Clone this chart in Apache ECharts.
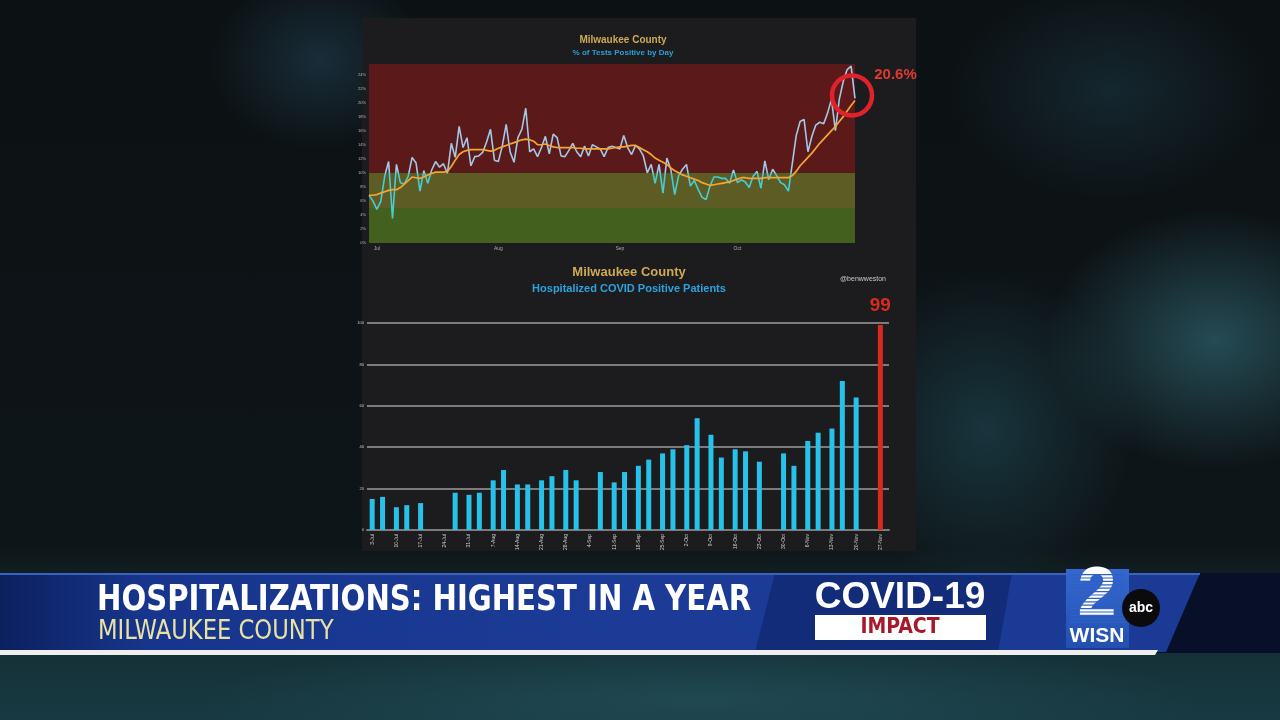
<!DOCTYPE html>
<html>
<head>
<meta charset="utf-8">
<script src="https://cdn.jsdelivr.net/npm/echarts@6/dist/echarts.min.js"></script>
<style>
  html, body { margin: 0; padding: 0; }
  body {
    width: 1280px; height: 720px; overflow: hidden;
    background:
      radial-gradient(ellipse 170px 130px at 1215px 340px, rgba(52,112,126,0.6), rgba(0,0,0,0)),
      radial-gradient(ellipse 150px 160px at 985px 430px, rgba(34,84,98,0.5), rgba(0,0,0,0)),
      radial-gradient(ellipse 160px 110px at 1110px 90px, rgba(30,64,80,0.45), rgba(0,0,0,0)),
      radial-gradient(ellipse 110px 90px at 320px 60px, rgba(38,78,104,0.45), rgba(0,0,0,0)),
      radial-gradient(ellipse 500px 60px at 700px 700px, rgba(36,80,90,0.7), rgba(0,0,0,0)),
      linear-gradient(to bottom, #0c1113 0%, #0e1518 76%, #132a30 84%, #183a42 100%);
  }
  #main { width: 1280px; height: 720px; }
</style>
</head>
<body>
<div id="main"></div>
<script>
// % of tests positive by day, from 29 Jun
var testStart = '2020-06-29';
var monthTicks = ['2020-07-01', '2020-08-01', '2020-09-01', '2020-10-01'];
var monthLabels = ['Jul', 'Aug', 'Sep', 'Oct'];
var pctPositive = [
  6.8, 6.0, 4.8, 5.9, 9.5, 11.6, 3.5, 11.2, 8.6, 8.4,
  9.5, 12.2, 11.4, 7.4, 10.3, 8.5, 10.4, 11.6, 10.8, 11.3,
  9.9, 14.2, 12.2, 16.6, 13.6, 15.0, 11.0, 12.3, 12.4, 12.9,
  14.4, 16.2, 11.8, 11.6, 13.8, 16.9, 13.0, 11.5, 15.0, 16.2,
  19.2, 13.0, 13.4, 12.3, 13.6, 15.2, 12.7, 15.5, 15.0, 12.4,
  12.3, 13.2, 14.2, 13.0, 12.3, 13.8, 12.4, 14.0, 13.7, 13.4,
  12.3, 13.6, 13.8, 13.6, 13.4, 15.3, 13.6, 12.6, 13.9, 13.4,
  12.4, 10.0, 11.2, 8.5, 11.2, 7.1, 12.1, 10.5, 6.9, 9.6,
  10.5, 11.2, 8.1, 8.9, 7.6, 6.5, 6.2, 8.1, 9.4, 9.4,
  9.2, 9.2, 8.5, 10.4, 8.6, 9.0, 8.7, 7.9, 9.5, 10.2,
  7.8, 11.7, 9.0, 10.5, 9.6, 8.6, 8.3, 7.4, 11.3, 15.3,
  17.3, 17.6, 13.0, 15.2, 16.8, 17.2, 17.0, 18.5, 20.5, 16.0,
  20.5, 23.0, 24.7, 25.2, 20.6
];
var pctAvg7 = [
  6.8, 6.8, 6.9, 7.1, 7.3, 7.5, 7.6, 7.6, 7.9, 8.4,
  8.9, 9.4, 9.3, 9.2, 9.4, 9.7, 9.9, 10.1, 10.1, 10.1,
  10.2, 10.9, 11.8, 12.6, 13.0, 13.2, 13.3, 13.3, 13.3, 13.3,
  13.2, 13.1, 13.2, 13.5, 13.7, 13.9, 14.1, 14.3, 14.5, 14.7,
  14.8, 14.7, 14.5, 14.0, 14.0, 14.1, 13.9, 13.7, 13.6, 13.6,
  13.6, 13.6, 13.6, 13.5, 13.5, 13.4, 13.4, 13.4, 13.4, 13.4,
  13.4, 13.4, 13.5, 13.6, 13.7, 13.7, 13.8, 13.9, 13.9, 13.6,
  13.3, 13.0, 12.6, 12.1, 11.8, 11.5, 11.2, 10.7, 10.3, 10.0,
  9.7, 9.5, 9.3, 9.1, 8.9, 8.6, 8.4, 8.2, 8.3, 8.4,
  8.5, 8.6, 8.7, 8.9, 9.1, 9.3, 9.3, 9.2, 9.2, 9.2,
  9.2, 9.3, 9.3, 9.3, 9.3, 9.3, 9.3, 9.3, 9.6, 10.2,
  11.0, 11.6, 12.2, 12.8, 13.5, 14.2, 14.8, 15.4, 16.0, 16.6,
  17.3, 18.0, 18.8, 19.6, 20.3
];
var bandLimits = [0, 5, 10, 25.5];

// hospitalized COVID positive patients
var hospAxisStart = '2020-07-02';
var hospAxisEnd = '2020-11-29';
var hospDates = [
  '2020-07-03', '2020-07-06', '2020-07-10', '2020-07-13', '2020-07-17',
  '2020-07-27', '2020-07-31', '2020-08-03', '2020-08-07', '2020-08-10',
  '2020-08-14', '2020-08-17', '2020-08-21', '2020-08-24', '2020-08-28',
  '2020-08-31', '2020-09-07', '2020-09-11', '2020-09-14', '2020-09-18',
  '2020-09-21', '2020-09-25', '2020-09-28', '2020-10-02', '2020-10-05',
  '2020-10-09', '2020-10-12', '2020-10-16', '2020-10-19', '2020-10-23',
  '2020-10-30', '2020-11-02', '2020-11-06', '2020-11-09', '2020-11-13',
  '2020-11-16', '2020-11-20', '2020-11-27'
];
var hospPatients = [
  15, 16, 11, 12, 13, 18, 17, 18, 24, 29,
  22, 22, 24, 26, 29, 24, 28, 23, 28, 31,
  34, 37, 39, 41, 54, 46, 35, 39, 38, 33,
  37, 31, 43, 47, 49, 72, 64, 99
];
var hospTickDates = [
  '2020-07-03', '2020-07-10', '2020-07-17', '2020-07-24', '2020-07-31',
  '2020-08-07', '2020-08-14', '2020-08-21', '2020-08-28', '2020-09-04',
  '2020-09-11', '2020-09-18', '2020-09-25', '2020-10-02', '2020-10-09',
  '2020-10-16', '2020-10-23', '2020-10-30', '2020-11-06', '2020-11-13',
  '2020-11-20', '2020-11-27'
];
var monthNames = ['Jan', 'Feb', 'Mar', 'Apr', 'May', 'Jun', 'Jul', 'Aug', 'Sep', 'Oct', 'Nov', 'Dec'];

function isoDay(t) { return new Date(t).toISOString().slice(0, 10); }
function dayRange(from, to) {
  var out = [];
  for (var t = Date.parse(from); t <= Date.parse(to); t += 864e5) out.push(isoDay(t));
  return out;
}
function dayLabel(d) {
  var t = new Date(Date.parse(d));
  return t.getUTCDate() + '-' + monthNames[t.getUTCMonth()];
}

// axis categories = calendar days
var testDays = pctPositive.map(function (v, i) { return isoDay(Date.parse(testStart) + i * 864e5); });
var hospDays = dayRange(hospAxisStart, hospAxisEnd);
var lastIdx = pctPositive.length - 1;
var hospLast = hospPatients.length - 1;

var font = "'Liberation Sans', Arial, sans-serif";
var narrow = "'Liberation Sans Narrow', 'DejaVu Sans Condensed', sans-serif";
var red = '#d92a22';
var bandColors = ['#44601f', '#5e5c25', '#5b1a19'];

var hospBars = hospDays.map(function (d) {
  var i = hospDates.indexOf(d);
  if (i < 0) return '-';
  var item = { value: hospPatients[i] };
  if (i === hospLast) {
    item.itemStyle = { color: red };
    item.label = {
      show: true, position: 'top', distance: 10, color: red,
      fontSize: 19, fontWeight: 'bold', fontFamily: font
    };
  }
  return item;
});

var chart = echarts.init(document.getElementById('main'));

var option = {
  backgroundColor: 'transparent',
  animation: false,
  textStyle: { fontFamily: font },
  title: [
    { text: 'Milwaukee County', left: 618, top: 30, textAlign: 'center',
      textStyle: { color: '#cdaa55', fontSize: 10, fontWeight: 'bold' } },
    { text: '% of Tests Positive by Day', left: 618, top: 44, textAlign: 'center',
      textStyle: { color: '#2b9fd8', fontSize: 8, fontWeight: 'bold' } },
    { text: 'Milwaukee County', left: 624, top: 261, textAlign: 'center',
      textStyle: { color: '#cdaa55', fontSize: 13, fontWeight: 'bold' } },
    { text: 'Hospitalized COVID Positive Patients', left: 624, top: 278, textAlign: 'center',
      textStyle: { color: '#2ba3dd', fontSize: 11, fontWeight: 'bold' } },
    { text: '@benwweston', left: 858, top: 271, textAlign: 'center',
      textStyle: { color: '#c8c8c8', fontSize: 7, fontWeight: 'normal' } }
  ],
  grid: [
    { left: 369, top: 64, width: 486, height: 179 },
    { left: 367, top: 323, width: 522, height: 207 }
  ],
  xAxis: [
    {
      gridIndex: 0, type: 'category', data: testDays, boundaryGap: false,
      splitLine: { show: false }, axisLine: { show: false }, axisTick: { show: false },
      axisLabel: {
        color: '#aaa', fontSize: 5, margin: 3,
        interval: function (i, v) { return monthTicks.indexOf(v) >= 0; },
        formatter: function (v) { return monthLabels[monthTicks.indexOf(v)]; }
      }
    },
    {
      gridIndex: 1, type: 'category', data: hospDays,
      splitLine: { show: false },
      axisLine: { show: true, lineStyle: { color: '#7c7c7c', width: 2 } },
      axisTick: { show: false },
      axisLabel: {
        color: '#cfcfcf', fontSize: 5, margin: 4, rotate: 90,
        interval: function (i, v) { return hospTickDates.indexOf(v) >= 0; },
        formatter: function (v) { return dayLabel(v); }
      }
    }
  ],
  yAxis: [
    {
      gridIndex: 0, type: 'value', min: 0, max: 25.5, interval: 2,
      splitLine: { show: false }, axisLine: { show: false }, axisTick: { show: false },
      axisLabel: { color: '#bbb', fontSize: 4, margin: 3, showMaxLabel: false, formatter: '{value}%' }
    },
    {
      gridIndex: 1, type: 'value', min: 0, max: 100, interval: 20,
      splitLine: { lineStyle: { color: '#7c7c7c', width: 2 } },
      axisLine: { show: false }, axisTick: { show: false },
      axisLabel: { color: '#ccc', fontSize: 4, margin: 3 }
    }
  ],
  visualMap: {
    type: 'piecewise', show: false, seriesIndex: 0, dimension: 1,
    pieces: [
      { gte: 0, lt: 10, color: '#45cdd2' },
      { gte: 10, lte: 30, color: '#a3c7e6' }
    ]
  },
  series: [
    {
      name: 'Daily % positive', type: 'line', xAxisIndex: 0, yAxisIndex: 0,
      data: pctPositive, symbol: 'none', lineStyle: { width: 1.6 }, z: 3
    },
    {
      name: '7-day average', type: 'line', xAxisIndex: 0, yAxisIndex: 0,
      data: pctAvg7, symbol: 'none', z: 4,
      lineStyle: { width: 1.7, color: '#f5a632' }, itemStyle: { color: '#f5a632' },
      markArea: {
        silent: true,
        data: [0, 1, 2].map(function (k) {
          return [
            { yAxis: bandLimits[k], itemStyle: { color: bandColors[k] } },
            { yAxis: bandLimits[k + 1] }
          ];
        })
      }
    },
    {
      name: 'Latest', type: 'scatter', xAxisIndex: 0, yAxisIndex: 0, z: 5, silent: true,
      data: [[lastIdx, pctPositive[lastIdx]]],
      symbol: 'circle', symbolSize: 40, symbolOffset: [-3, -3],
      itemStyle: { color: 'rgba(0,0,0,0)', borderColor: '#e0232a', borderWidth: 4.5, opacity: 1 },
      label: {
        show: true, position: 'right', distance: 0, offset: [0, -21],
        color: '#e03a2e', fontSize: 15, fontWeight: 'bold', fontFamily: font,
        formatter: function (p) { return p.value[1].toFixed(1) + '%'; }
      }
    },
    {
      name: 'Hospitalized', type: 'bar', xAxisIndex: 1, yAxisIndex: 1, barWidth: 5,
      itemStyle: { color: '#27c2ea' }, data: hospBars
    }
  ],
  graphic: [
    // chart panel
    { type: 'rect', z: -10, silent: true, shape: { x: 362, y: 18, width: 554, height: 533 }, style: { fill: '#1c1c1e' } },

    // lower third
    { type: 'rect', z: 100, shape: { x: 0, y: 573, width: 1280, height: 80 }, style: { fill: '#080f28' } },
    { type: 'polygon', z: 101, shape: { points: [[0, 573], [1200, 573], [1166, 652], [0, 652]] },
      style: { fill: new echarts.graphic.LinearGradient(0, 0, 1, 0, [
        { offset: 0, color: '#0c205e' }, { offset: 0.12, color: '#17358c' },
        { offset: 0.5, color: '#1b3b96' }, { offset: 1, color: '#1a3a95' }]) } },
    { type: 'polygon', z: 102, shape: { points: [[775, 573], [1012, 573], [998, 652], [755, 652]] },
      style: { fill: '#132c79' } },
    { type: 'rect', z: 103, shape: { x: 0, y: 573, width: 1200, height: 2 }, style: { fill: '#3a62c0' } },
    { type: 'polygon', z: 104, shape: { points: [[0, 650], [1158, 650], [1155, 655], [0, 655]] },
      style: { fill: '#efefef' } },

    { type: 'text', z: 110, x: 97, y: 601, scaleX: 0.9,
      style: { x: 0, y: 0, text: 'HOSPITALIZATIONS: HIGHEST IN A YEAR',
      fill: '#ffffff', font: 'bold 36px ' + narrow, textVerticalAlign: 'middle' } },
    { type: 'text', z: 110, x: 98, y: 632, scaleX: 0.97,
      style: { x: 0, y: 0, text: 'MILWAUKEE COUNTY',
      fill: '#e8e2a4', font: '26px ' + narrow, textVerticalAlign: 'middle' } },

    { type: 'text', z: 110, style: { x: 900, y: 598, text: 'COVID-19', fill: '#ffffff',
      font: 'bold 37px ' + font, textAlign: 'center', textVerticalAlign: 'middle' } },
    { type: 'rect', z: 110, shape: { x: 815, y: 615, width: 171, height: 25 }, style: { fill: '#ffffff' } },
    { type: 'text', z: 111, style: { x: 900, y: 628, text: 'IMPACT', fill: '#a6192b',
      font: 'bold 21px ' + narrow, textAlign: 'center', textVerticalAlign: 'middle' } },

    // station logo
    { type: 'rect', z: 110, shape: { x: 1066, y: 569, width: 63, height: 79 },
      style: { fill: new echarts.graphic.LinearGradient(0, 0, 0, 1, [
        { offset: 0, color: '#3468cf' }, { offset: 1, color: '#2350b0' }]) } },
    { type: 'text', z: 111, style: { x: 1097, y: 597, text: '2', fill: '#ffffff',
      font: 'bold 70px ' + font, textAlign: 'center', textVerticalAlign: 'middle' } },
    { type: 'group', z: 112, children: [0, 1, 2, 3, 4, 5, 6, 7, 8, 9, 10, 11, 12, 13, 14].map(function (k) {
      return { type: 'rect', z: 112, shape: { x: 1070, y: 574 + k * 3.4, width: 55, height: 1.2 }, style: { fill: '#2e60c6' } };
    }) },
    { type: 'text', z: 111, style: { x: 1097, y: 636, text: 'WISN', fill: '#ffffff',
      font: 'bold 21px ' + font, textAlign: 'center', textVerticalAlign: 'middle' } },
    { type: 'circle', z: 113, shape: { cx: 1141, cy: 608, r: 19 }, style: { fill: '#0b0b0d' } },
    { type: 'text', z: 114, style: { x: 1141, y: 608, text: 'abc', fill: '#ffffff',
      font: 'bold 14px ' + font, textAlign: 'center', textVerticalAlign: 'middle' } }
  ]
};

chart.setOption(option);
</script>
</body>
</html>
